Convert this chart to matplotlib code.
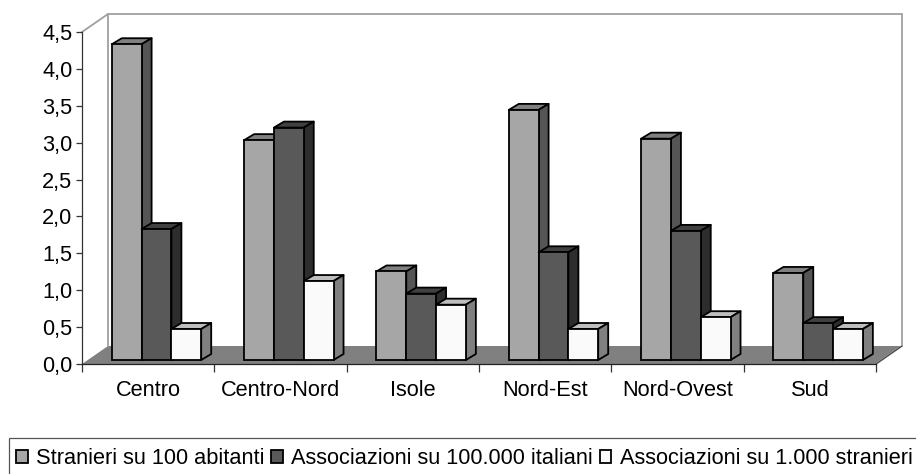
import matplotlib
matplotlib.use('Agg')
import matplotlib.pyplot as plt
from matplotlib.patches import Polygon, Rectangle

categories = ['Centro', 'Centro-Nord', 'Isole', 'Nord-Est', 'Nord-Ovest', 'Sud']
stranieri = [4.28, 2.98, 1.20, 3.39, 3.00, 1.18]
assoc_italiani = [1.775, 3.15, 0.90, 1.46, 1.75, 0.50]
assoc_stranieri = [0.42, 1.07, 0.75, 0.42, 0.58, 0.42]
series_names = ['Stranieri su 100 abitanti', 'Associazioni su 100.000 italiani', 'Associazioni su 1.000 stranieri']
y_ticks = [0, 0.5, 1, 1.5, 2, 2.5, 3, 3.5, 4, 4.5]

W, H = 916, 474
FS = 15.7
LW = 1.3
plt.rcParams['font.family'] = ['Liberation Sans', 'DejaVu Sans']

fig = plt.figure(figsize=(W / 100, H / 100), dpi=100)
# axes = front rectangle of the excel 3d box
ax = fig.add_axes([82 / W, 1 - 364 / H, 794 / W, 332 / H])
ax.set_xlim(0, 6)
ax.set_ylim(0, 4.5)
ux = 794 / 6      # pixels per category
uy = 332 / 4.5    # pixels per unit

# box depth
wx = 26 / ux
wy = 18 / uy
# bar depth and placement
bar_w = 29.8 / ux
first = 29.8 / ux
base = 4 / uy
dx = 10 / ux
dy = 6 / uy

# floor and walls
ax.add_patch(Polygon([(0, 0), (6, 0), (6 + wx, wy), (wx, wy)], closed=True, fc='#808080', ec='none',
                     clip_on=False, zorder=1))
ax.plot([0, wx, 6 + wx, 6 + wx, 6], [4.5, 4.5 + wy, 4.5 + wy, wy, 0], color='#a0a0a0', lw=1.3,
        clip_on=False, zorder=1, solid_joinstyle='miter')
ax.plot([wx, wx], [wy, 4.5 + wy], color='#a0a0a0', lw=1.3, clip_on=False, zorder=1)
ax.plot([6, 6 + wx], [0, wy], color='#333333', lw=0.6, clip_on=False, zorder=1.5)

series = [stranieri, assoc_italiani, assoc_stranieri]
front_colors = ['#a6a6a6', '#595959', '#fafafa']
top_colors = ['#808080', '#404040', '#bebebe']
side_colors = ['#555555', '#2d2d2d', '#808080']

xpos = [i + first for i in range(len(categories))]
for s, vals in enumerate(series):
    z = 3 + s
    lefts = [x + s * bar_w for x in xpos]
    ax.bar(lefts, vals, width=bar_w, bottom=base, align='edge', color=front_colors[s], edgecolor='black',
           linewidth=LW, clip_on=False, zorder=z + 0.2)
    for x, v in zip(lefts, vals):
        t = base + v
        ax.add_patch(Polygon([(x, t), (x + bar_w, t), (x + bar_w + dx, t + dy), (x + dx, t + dy)], closed=True,
                             fc=top_colors[s], ec='black', lw=LW, clip_on=False, zorder=z, joinstyle='round'))
        ax.add_patch(Polygon([(x + bar_w, base), (x + bar_w + dx, base + dy), (x + bar_w + dx, t + dy), (x + bar_w, t)],
                             closed=True, fc=side_colors[s], ec='black', lw=LW, clip_on=False, zorder=z,
                             joinstyle='round'))

for side in ['top', 'right']:
    ax.spines[side].set_visible(False)
ax.spines['left'].set_color('#333333')
ax.spines['bottom'].set_color('#222222')
ax.spines['left'].set_linewidth(0.9)
ax.spines['bottom'].set_linewidth(0.9)
ax.spines['left'].set_zorder(2)
ax.spines['bottom'].set_zorder(2)
ax.patch.set_visible(False)

ax.set_yticks(y_ticks)
ax.set_yticklabels([('%.1f' % v).replace('.', ',') for v in y_ticks], fontsize=FS)
ax.set_xticks(range(7))
ax.set_xticklabels([])
ax.tick_params(axis='y', length=4, width=0.9, color='#333333', pad=3)
ax.tick_params(axis='x', length=5.5, width=0.9, color='#333333')
for i, name in enumerate(categories):
    ax.annotate(name, xy=(i + 0.5, 0), xycoords='data', xytext=(0, -26), textcoords='offset pixels',
                ha='center', va='center', fontsize=FS)

# legend frame runs off the right and bottom of the picture
fig.add_artist(Rectangle((9 / W, -10 / H), 920 / W, 46 / H, transform=fig.transFigure, fc='none', ec='#555555', lw=0.9))

handles = [Rectangle((0, 0), 1, 1, fc=c, ec='black', lw=LW) for c in front_colors]
leg = fig.legend(handles, series_names, ncols=3, loc='lower left',
                 bbox_to_anchor=(9 / W, -2 / H), fontsize=FS,
                 frameon=False,
                 handlelength=0.54, handleheight=0.54, handletextpad=0.38, columnspacing=0.3,
                 borderpad=0.33, borderaxespad=0)

fig.savefig('out.png', dpi=100)
